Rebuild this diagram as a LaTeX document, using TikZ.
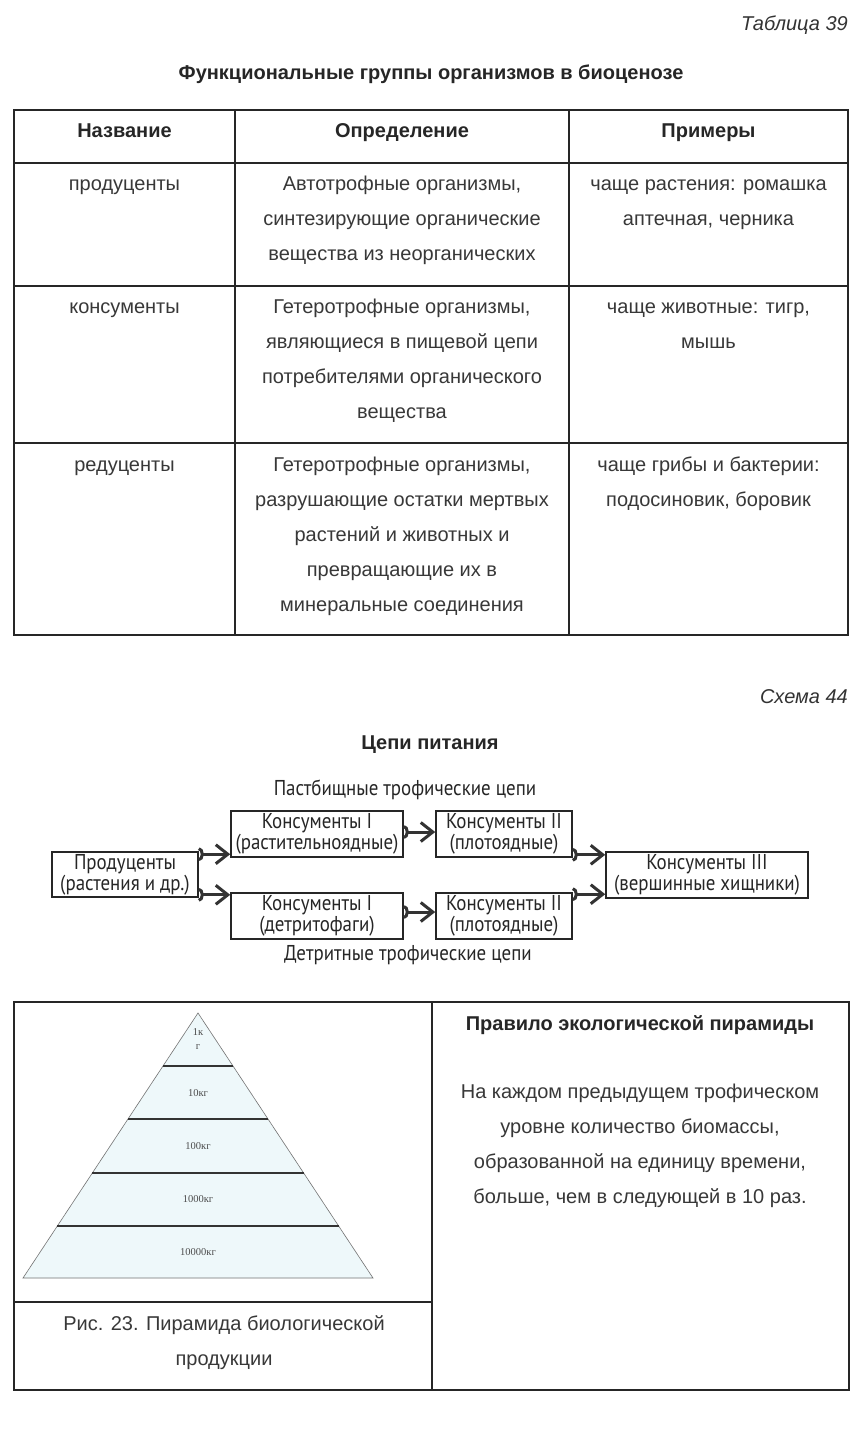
\documentclass[tikz,border=0pt]{standalone}
\usepackage{fontspec}
\setmainfont{Liberation Sans}
\newfontfamily\schemefont[FakeStretch=0.88]{PT Sans}
\newfontfamily\pyrfont{Liberation Serif}
\usetikzlibrary{arrows.meta,calc}

\newcommand{\tabfont}{\fontsize{20}{35}\selectfont}
\newcommand{\chainfont}{\schemefont\fontsize{21.5}{21}\selectfont}
\definecolor{pyrfill}{HTML}{EEF8FA}

\tikzset{
  tabline/.style={line width=1.8pt,draw=black!85},
  cell/.style={anchor=north,inner sep=0pt,align=center,font=\tabfont,text=black!78},
  head/.style={cell,font=\tabfont\bfseries,text=black!85},
  chainbox/.style={draw=black!85,line width=1.6pt,inner sep=0pt,align=center,font=\chainfont,text=black!85},
  chainlbl/.style={inner sep=0pt,font=\chainfont,text=black!85},
  flow/.style={line width=3pt,draw=black!80,{Arc Barb[reversed,length=5pt,width=14pt]}-{Straight Barb[length=12pt,width=19pt]}},
  tierline/.style={line width=1.2pt,draw=black!80},
  mass/.style={inner sep=0pt,align=center,font=\pyrfont\fontsize{10.5}{14}\selectfont,text=black!70}
}

\begin{document}
\begin{tikzpicture}[x=1pt,y=-1pt]
  \useasboundingbox[fill=white] (0,0) rectangle (863,1436);

  % Table 39
  \node[anchor=east,inner sep=0pt,font=\fontsize{20}{22}\selectfont\itshape,text=black!80] (tabno) at (848,25) {Таблица 39};
  \node[inner sep=0pt,font=\fontsize{20}{22}\selectfont\bfseries,text=black!85] (tabtitle) at (431,74) {Функциональные группы организмов в биоценозе};
  \draw[tabline] (14,110) rectangle (848,635);
  \draw[tabline] (235,110) -- (235,635) (569,110) -- (569,635);
  \draw[tabline] (14,163) -- (848,163) (14,286) -- (848,286) (14,443) -- (848,443);

  \node[head] (hname) at (124.5,113) {\strut Название};
  \node[head] (hdef) at (402,113) {\strut Определение};
  \node[head] (hex) at (708.5,113) {\strut Примеры};

  \node[cell] (prodname) at (124.5,166) {\strut продуценты};
  \node[cell] (proddef) at (402,166) {\strut Автотрофные организмы,\\синтезирующие органические\\вещества из неорганических};
  \node[cell] (prodex) at (708.5,166) {\strut чаще растения: ромашка\\аптечная, черника};

  \node[cell] (consname) at (124.5,289) {\strut консументы};
  \node[cell] (consdef) at (402,289) {\strut Гетеротрофные организмы,\\являющиеся в пищевой цепи\\потребителями органического\\вещества};
  \node[cell] (consex) at (708.5,289) {\strut чаще животные: тигр,\\мышь};

  \node[cell] (redname) at (124.5,447) {\strut редуценты};
  \node[cell] (reddef) at (402,447) {\strut Гетеротрофные организмы,\\разрушающие остатки мертвых\\растений и животных и\\превращающие их в\\минеральные соединения};
  \node[cell] (redex) at (708.5,447) {\strut чаще грибы и бактерии:\\подосиновик, боровик};

  % Scheme 44
  \node[anchor=east,inner sep=0pt,font=\fontsize{20}{22}\selectfont\itshape,text=black!80] (schno) at (848,697) {Схема 44};
  \node[inner sep=0pt,font=\fontsize{20}{22}\selectfont\bfseries,text=black!85] (schtitle) at (430,745) {Цепи питания};

  \node[chainlbl] (grazing) at (405,790) {Пастбищные трофические цепи};
  \node[chainlbl] (detrital) at (408,955) {Детритные трофические цепи};

  \node[chainbox,minimum width=146pt,minimum height=45pt] (prod) at (125,874.5) {Продуценты\\(растения и др.)};
  \node[chainbox,minimum width=172pt,minimum height=46pt] (herb) at (317,834) {Консументы I\\(растительноядные)};
  \node[chainbox,minimum width=172pt,minimum height=46pt] (detr) at (317,916) {Консументы I\\(детритофаги)};
  \node[chainbox,minimum width=136pt,minimum height=46pt] (carna) at (504,834) {Консументы II\\(плотоядные)};
  \node[chainbox,minimum width=136pt,minimum height=46pt] (carnb) at (504,916) {Консументы II\\(плотоядные)};
  \node[chainbox,minimum width=202pt,minimum height=46pt] (apexc) at (707,875) {Консументы III\\(вершинные хищники)};

  \draw[flow] ([yshift=-3pt]prod.north east) -- ([yshift=-3pt]prod.north east -| herb.west);
  \draw[flow] ([yshift=3pt]prod.south east) -- ([yshift=3pt]prod.south east -| detr.west);
  \draw[flow] ([yshift=2pt]herb.east) -- ([yshift=2pt]carna.west);
  \draw[flow] ([yshift=4pt]detr.east) -- ([yshift=4pt]carnb.west);
  \draw[flow] ([yshift=3pt]carna.south east) -- ([yshift=3pt]carna.south east -| apexc.west);
  \draw[flow] ([yshift=-2pt]carnb.north east) -- ([yshift=-2pt]carnb.north east -| apexc.west);

  % pyramid and rule
  \draw[tabline] (14,1002) rectangle (849,1390);
  \draw[tabline] (432,1002) -- (432,1390);
  \draw[tabline] (14,1302) -- (432,1302);

  \coordinate (apex) at (198,1013);
  \coordinate (bl) at (23,1278);
  \coordinate (br) at (373,1278);
  \draw[draw=black!55,line width=0.6pt,fill=pyrfill] (apex) -- (bl) -- (br) -- cycle;
  \foreach \y [evaluate=\y as \t using (\y-1013)/265] in {1066,1119,1173,1226}
    \draw[tierline] ($(apex)!\t!(bl)$) -- ($(apex)!\t!(br)$);

  \node[mass] (m1) at (198,1039) {1к\\г};
  \node[mass] (m2) at (198,1093) {10кг};
  \node[mass] (m3) at (198,1146) {100кг};
  \node[mass] (m4) at (198,1199) {1000кг};
  \node[mass] (m5) at (198,1252) {10000кг};

  \node[cell] (capt) at (224,1306) {\strut Рис. 23. Пирамида биологической\\продукции};

  \node[head] (ruletitle) at (640,1006) {\strut Правило экологической пирамиды};
  \node[cell] (ruletext) at (640,1074) {\strut На каждом предыдущем трофическом\\уровне количество биомассы,\\образованной на единицу времени,\\больше, чем в следующей в 10 раз.};
\end{tikzpicture}
\end{document}
